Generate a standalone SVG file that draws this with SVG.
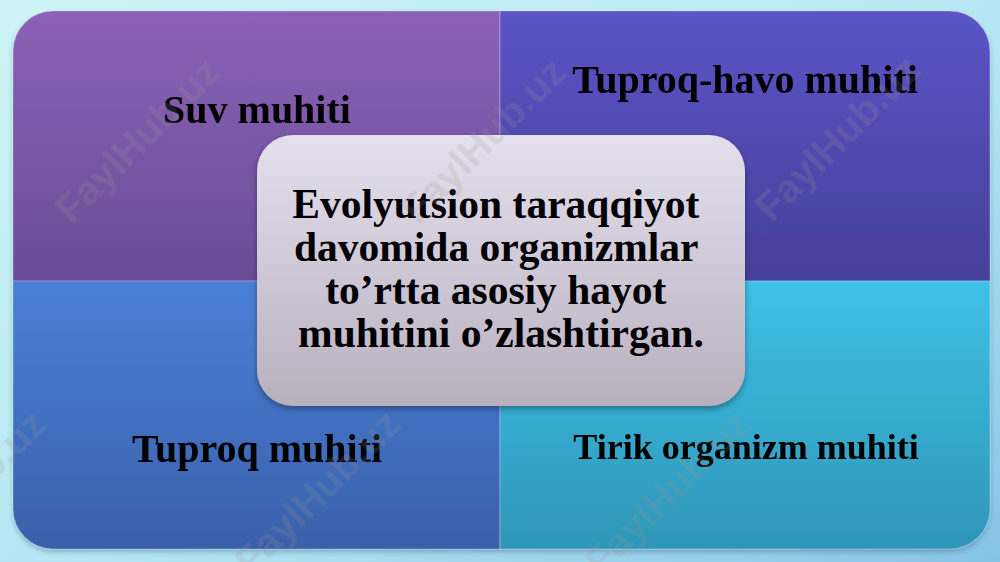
<svg xmlns="http://www.w3.org/2000/svg" width="1000" height="562" viewBox="0 0 1000 562">
  <defs>
    <linearGradient id="bg" x1="0" y1="0" x2="1" y2="1">
      <stop offset="0" stop-color="#cdf4f6"/>
      <stop offset="0.55" stop-color="#b6e6f3"/>
      <stop offset="1" stop-color="#86c4e6"/>
    </linearGradient>
    <linearGradient id="gTL" x1="0" y1="0" x2="0" y2="1">
      <stop offset="0" stop-color="#8b62b8"/>
      <stop offset="1" stop-color="#6a4c95"/>
    </linearGradient>
    <linearGradient id="gTR" x1="0" y1="0" x2="0" y2="1">
      <stop offset="0" stop-color="#5b54c6"/>
      <stop offset="1" stop-color="#45409a"/>
    </linearGradient>
    <linearGradient id="gBL" x1="0" y1="0" x2="0" y2="1">
      <stop offset="0" stop-color="#4a80d8"/>
      <stop offset="1" stop-color="#3a60aa"/>
    </linearGradient>
    <linearGradient id="gBR" x1="0" y1="0" x2="0" y2="1">
      <stop offset="0" stop-color="#3ec1e6"/>
      <stop offset="1" stop-color="#2e96b8"/>
    </linearGradient>
    <linearGradient id="gC" x1="0" y1="0" x2="0" y2="1">
      <stop offset="0" stop-color="#e4e0ee"/>
      <stop offset="1" stop-color="#b9b0be"/>
    </linearGradient>
    <filter id="shadow" x="-10%" y="-10%" width="120%" height="125%">
      <feDropShadow dx="0" dy="3" stdDeviation="3" flood-color="#000" flood-opacity="0.35"/>
    </filter>
    <filter id="soft" x="-5%" y="-5%" width="110%" height="115%">
      <feDropShadow dx="0" dy="3" stdDeviation="2.5" flood-color="#2a4a70" flood-opacity="0.35"/>
    </filter>
  </defs>
  <style>
    .q { stroke: #ffffff; stroke-opacity: 0.25; stroke-width: 1.2; }
    .lbl { font-family: "Liberation Serif", "Times New Roman", serif; font-weight: bold; fill: #000; text-anchor: middle; }
    .wm { font-family: "Liberation Sans", Arial, sans-serif; font-weight: bold; font-size: 40px; fill: #999999; fill-opacity: 0.2; text-anchor: middle; }
  </style>

  <rect x="0" y="0" width="1000" height="562" fill="url(#bg)"/>

  <g id="quadrants" filter="url(#soft)">
    <g id="node-suv">
      <path class="q" d="M13,51 A40,40 0 0 1 53,11 L500,11 L500,281 L13,281 Z" fill="url(#gTL)"/>
      <text class="lbl" x="257" y="123" font-size="40">Suv muhiti</text>
    </g>
    <g id="node-tuproq-havo">
      <path class="q" d="M500,11 L950,11 A40,40 0 0 1 990,51 L990,281 L500,281 Z" fill="url(#gTR)"/>
      <text class="lbl" x="745" y="93" font-size="40">Tuproq-havo muhiti</text>
    </g>
    <g id="node-tuproq">
      <path class="q" d="M13,281 L500,281 L500,549 L53,549 A40,40 0 0 1 13,509 Z" fill="url(#gBL)"/>
      <text class="lbl" x="257" y="462" font-size="40">Tuproq muhiti</text>
    </g>
    <g id="node-tirik">
      <path class="q" d="M500,281 L990,281 L990,509 A40,40 0 0 1 950,549 L500,549 Z" fill="url(#gBR)"/>
      <text class="lbl" x="746" y="459" font-size="36">Tirik organizm muhiti</text>
    </g>
  </g>

  <g id="node-center">
    <rect x="257" y="135" width="488" height="271" rx="36" ry="36" fill="url(#gC)" filter="url(#shadow)"/>
    <text class="lbl" font-size="41.5">
      <tspan x="501" y="218">Evolyutsion taraqqiyot</tspan>
      <tspan x="501" y="261">davomida organizmlar</tspan>
      <tspan x="501" y="304">to’rtta asosiy hayot</tspan>
      <tspan x="501" y="347">muhitini o’zlashtirgan.</tspan>
    </text>
  </g>

  <g id="connectors"/>

  <g id="watermarks">
    <text class="wm" transform="translate(137,140) rotate(-45)" y="14">FaylHub.uz</text>
    <text class="wm" transform="translate(483,140) rotate(-45)" y="14">FaylHub.uz</text>
    <text class="wm" transform="translate(837,138) rotate(-45)" y="14">FaylHub.uz</text>
    <text class="wm" transform="translate(-37,492) rotate(-45)" y="14">FaylHub.uz</text>
    <text class="wm" transform="translate(317,492) rotate(-45)" y="14">FaylHub.uz</text>
    <text class="wm" transform="translate(667,492) rotate(-45)" y="14">FaylHub.uz</text>
  </g>
</svg>
